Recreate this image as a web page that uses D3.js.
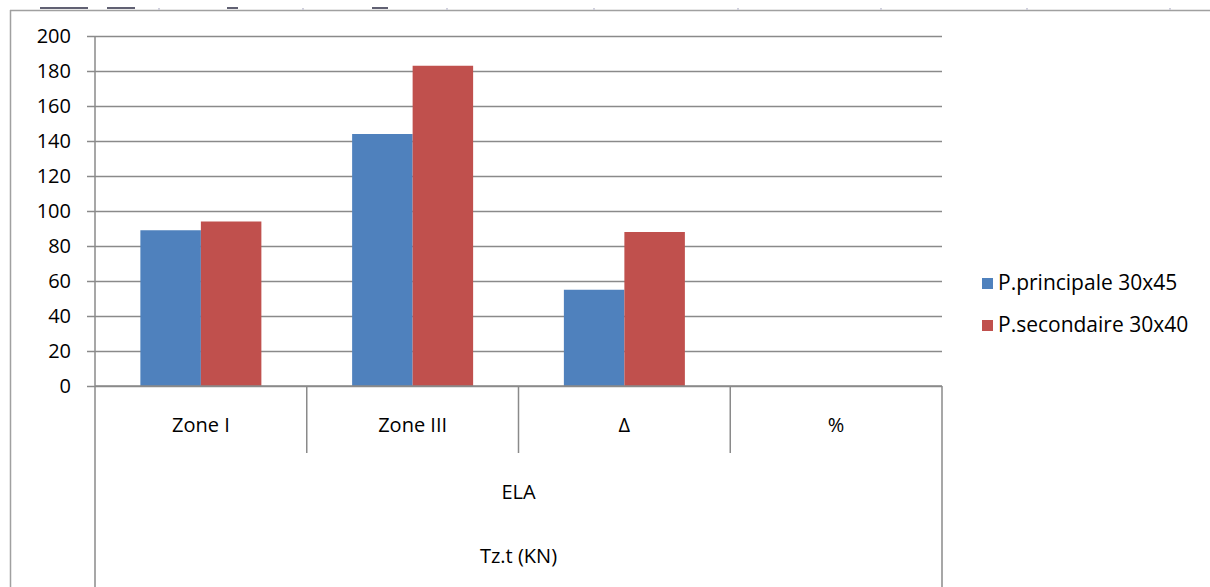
<!DOCTYPE html>
<html>
<head>
<meta charset="utf-8">
<script src="https://cdn.jsdelivr.net/npm/d3@7"></script>
<style>
  html, body { margin: 0; padding: 0; background: #fff; }
  svg { display: block; }
  text { font-family: "Open Sans", "Noto Sans", sans-serif; fill: #000; }
</style>
</head>
<body>
<svg id="chart" width="1210" height="587"></svg>
<script>
const categories = ["Zone I", "Zone III", "Δ", "%"];
const seriesNames = ["P.principale 30x45", "P.secondaire 30x40"];
const principale = [89, 144, 55, null];
const secondaire = [94, 183, 88, null];
const yTicks = [0, 20, 40, 60, 80, 100, 120, 140, 160, 180, 200];
const groupLabel = "ELA";
const axisTitle = "Tz.t (KN)";
const colors = ["#4F81BD", "#C0504D"];

const svg = d3.select("#chart");
const W = 1210, H = 587;
const plot = { left: 95, right: 942, top: 36, bottom: 386 };

// chart area border (left & top)
svg.append("line").attr("x1", 10).attr("x2", W).attr("y1", 10.5).attr("y2", 10.5)
  .attr("stroke", "#a0a0a0").attr("stroke-width", 1.5);
svg.append("line").attr("x1", 10.5).attr("x2", 10.5).attr("y1", 10).attr("y2", H)
  .attr("stroke", "#a0a0a0").attr("stroke-width", 1.5);
// faint page marks above the border (cut off from the source document)
[158, 302, 446, 593, 737, 880, 1026, 1169].forEach(x => {
  svg.append("rect").attr("x", x).attr("y", 8).attr("width", 2).attr("height", 2).attr("fill", "#d0d0dc");
});
[[40, 48], [107, 28], [227, 11], [372, 16]].forEach(([x, w]) => {
  svg.append("rect").attr("x", x).attr("y", 7).attr("width", w).attr("height", 2)
    .attr("fill", "#3a3a50").attr("opacity", 0.8);
});

const y = d3.scaleLinear().domain([0, 200]).range([plot.bottom, plot.top]);
const x0 = d3.scaleBand().domain(categories).range([plot.left, plot.right]).paddingInner(0).paddingOuter(0);
const x1 = d3.scaleBand().domain(seriesNames).range([0, x0.bandwidth()]).paddingInner(0).paddingOuter(0.75);

// gridlines + tick marks
const yAxis = d3.axisLeft(y).tickValues(yTicks).tickSize(-(plot.right - plot.left)).tickPadding(24);
const gy = svg.append("g").attr("transform", `translate(${plot.left},0)`).call(yAxis);
gy.select(".domain").remove();
gy.selectAll(".tick line").attr("stroke", "#8a8a8a").attr("stroke-width", 1.5).attr("x1", -8);
gy.selectAll(".tick text").attr("font-size", 20).attr("fill", "#000")
  .attr("font-family", "'Open Sans', 'Noto Sans', sans-serif");

// bars
const data = categories.map((c, i) => ({ cat: c, vals: [principale[i], secondaire[i]] }));
const groups = svg.append("g").selectAll("g").data(data).join("g")
  .attr("transform", d => `translate(${x0(d.cat)},0)`);
groups.selectAll("rect").data(d => d.vals.map((v, j) => ({ v, s: seriesNames[j], j })).filter(e => e.v != null))
  .join("rect")
  .attr("x", e => x1(e.s))
  .attr("width", x1.bandwidth())
  .attr("y", e => y(e.v))
  .attr("height", e => y(0) - y(e.v))
  .attr("fill", e => colors[e.j]);

// axes lines
svg.append("line").attr("x1", plot.left).attr("x2", plot.left).attr("y1", plot.top).attr("y2", H)
  .attr("stroke", "#8a8a8a").attr("stroke-width", 1.5);
svg.append("line").attr("x1", plot.left).attr("x2", plot.right).attr("y1", plot.bottom).attr("y2", plot.bottom)
  .attr("stroke", "#8a8a8a").attr("stroke-width", 1.5);
svg.append("line").attr("x1", plot.right).attr("x2", plot.right).attr("y1", plot.bottom).attr("y2", H)
  .attr("stroke", "#8a8a8a").attr("stroke-width", 1.5);
// category separators
categories.slice(1).forEach(c => {
  svg.append("line").attr("x1", x0(c)).attr("x2", x0(c)).attr("y1", plot.bottom).attr("y2", 453)
    .attr("stroke", "#8a8a8a").attr("stroke-width", 1.5);
});

// category labels
svg.append("g").selectAll("text").data(categories).join("text")
  .attr("x", c => x0(c) + x0.bandwidth() / 2)
  .attr("y", 425)
  .attr("dy", "0.35em")
  .attr("text-anchor", "middle")
  .attr("font-size", 20)
  .text(c => c);

svg.append("text").attr("x", (plot.left + plot.right) / 2).attr("y", 492).attr("dy", "0.35em")
  .attr("text-anchor", "middle").attr("font-size", 20).text(groupLabel);
svg.append("text").attr("x", (plot.left + plot.right) / 2).attr("y", 556).attr("dy", "0.35em")
  .attr("text-anchor", "middle").attr("font-size", 20).text(axisTitle);

// legend
const legend = svg.append("g").selectAll("g").data(seriesNames).join("g")
  .attr("transform", (d, i) => `translate(982,${283 + i * 42})`);
legend.append("rect").attr("x", 0).attr("y", -5).attr("width", 11).attr("height", 11)
  .attr("fill", (d, i) => colors[i]);
legend.append("text").attr("x", 16).attr("y", 0).attr("dy", "0.35em").attr("font-size", 21).text(d => d);
</script>
</body>
</html>
